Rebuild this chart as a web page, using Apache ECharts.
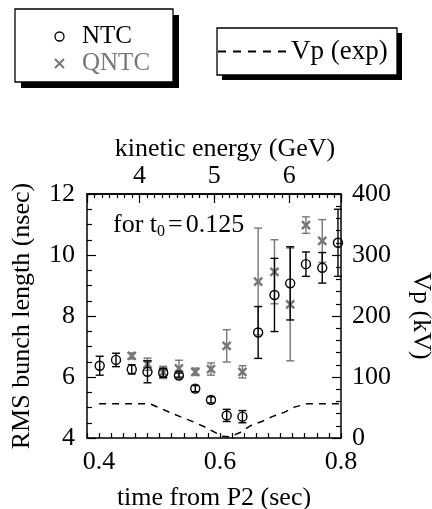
<!DOCTYPE html>
<html>
<head>
<meta charset="utf-8">
<script src="https://cdn.jsdelivr.net/npm/echarts@6/dist/echarts.min.js"></script>
<style>
  html, body { margin: 0; padding: 0; background: #fff; }
  #chart-root { width: 432px; height: 509px; }
</style>
</head>
<body>
<div id="chart-root"></div>
<script>
// time from P2 (sec) of each NTC point, RMS length (nsec) and error
var ntcT = [0.401, 0.428, 0.454, 0.480, 0.506, 0.532, 0.559, 0.585, 0.611, 0.637, 0.663, 0.690, 0.716, 0.742, 0.769, 0.795];
var ntcY = [6.37, 6.56, 6.25, 6.17, 6.14, 6.05, 5.62, 5.25, 4.74, 4.70, 7.46, 8.69, 9.07, 9.70, 9.58, 10.40];
var ntcErr = [0.31, 0.22, 0.15, 0.36, 0.15, 0.08, 0.10, 0.10, 0.20, 0.20, 0.85, 1.20, 1.20, 0.40, 0.50, 1.10];

// QNTC points
var qT = [0.454, 0.480, 0.506, 0.532, 0.559, 0.585, 0.611, 0.637, 0.663, 0.690, 0.716, 0.742, 0.769];
var qY = [6.69, 6.42, 6.15, 6.28, 6.17, 6.26, 7.02, 6.17, 9.13, 9.45, 8.38, 10.98, 10.46];
var qErr = [0.10, 0.20, 0.20, 0.27, 0.12, 0.20, 0.53, 0.20, 1.75, 1.05, 1.85, 0.27, 0.70];

// Vp (exp) in kV
var vpT = [0.400, 0.484, 0.501, 0.519, 0.534, 0.557, 0.575, 0.590, 0.603, 0.617, 0.633, 0.650, 0.669, 0.686, 0.706, 0.724, 0.744, 0.800];
var vpKV = [56, 56, 49, 41, 35, 26, 18, 10, 3, 2, 9, 20, 27, 35, 42, 51, 56, 56];

var timeLabels = [0.4, 0.6, 0.8];
var energyLabels = [4, 5, 6];

var FONT = "'Liberation Serif', 'DejaVu Serif', serif";
var GREY = "#777";
var CROSS = "path://M0,0L10,10M10,0L0,10";
// five short dashes for the Vp legend sample
var DASHES = "path://M0,0h8v2h-8zM15,0h8v2h-8zM30,0h8v2h-8zM45,0h8v2h-8zM60,0h8v2h-8z";

function zip(xs, ys) {
  return xs.map(function (x, i) { return [x, ys[i]]; });
}
function errData(xs, ys, es) {
  return xs.map(function (x, i) { return [x, ys[i] - es[i], ys[i] + es[i]]; });
}
function errorBars(color) {
  return function (params, api) {
    var x = api.value(0);
    var lo = api.coord([x, api.value(1)]);
    var hi = api.coord([x, api.value(2)]);
    var w = 4;
    var style = { stroke: color, lineWidth: 1.4 };
    return {
      type: "group",
      children: [
        { type: "line", shape: { x1: hi[0], y1: hi[1], x2: lo[0], y2: lo[1] }, style: style },
        { type: "line", shape: { x1: hi[0] - w, y1: hi[1], x2: hi[0] + w, y2: hi[1] }, style: style },
        { type: "line", shape: { x1: lo[0] - w, y1: lo[1], x2: lo[0] + w, y2: lo[1] }, style: style }
      ]
    };
  };
}
function near(v, list) {
  return list.some(function (t) { return Math.abs(v - t) < 1e-6; });
}
// framed box with a hard drop shadow, behind a legend
function shadowBox(x, y, w, h, off) {
  return [
    { type: "rect", shape: { x: x + off, y: y + off, width: w, height: h }, style: { fill: "#000" } },
    { type: "rect", shape: { x: x, y: y, width: w, height: h }, style: { fill: "#fff", stroke: "#000", lineWidth: 1.3 } }
  ];
}

var chart = echarts.init(document.getElementById("chart-root"));

var axisLine = { show: true, lineStyle: { color: "#000", width: 1.5 } };
var labelStyle = { color: "#000", fontSize: 26, fontFamily: FONT };

var option = {
  animation: false,
  backgroundColor: "#fff",
  textStyle: { fontFamily: FONT, color: "#000" },
  grid: { left: 87, top: 194, width: 254, height: 244, outerBoundsMode: "none", containLabel: false },
  legend: [
    {
      left: 54,
      top: 23,
      padding: 0,
      orient: "vertical",
      selectedMode: false,
      itemWidth: 9,
      itemHeight: 9,
      itemGap: 0,
      textStyle: { fontSize: 25, lineHeight: 27, fontFamily: FONT, color: "#000", padding: [0, 0, 0, 13] },
      data: [
        { name: "NTC", icon: "circle", itemStyle: { color: "transparent", borderColor: "#000", borderWidth: 1.3 } },
        { name: "QNTC", icon: CROSS, itemStyle: { color: "transparent", borderColor: GREY, borderWidth: 2 }, textStyle: { color: GREY } }
      ]
    },
    {
      left: 218,
      top: 37,
      padding: 0,
      selectedMode: false,
      itemWidth: 68,
      itemHeight: 2,
      textStyle: { fontSize: 27, lineHeight: 29, fontFamily: FONT, color: "#000" },
      data: [{ name: "Vp (exp)", icon: DASHES, itemStyle: { color: "#000" } }]
    }
  ],
  graphic: shadowBox(15, 9, 158, 73, 6).concat(shadowBox(217, 28, 180, 47, 5)).concat([
    {
      type: "text",
      left: 113,
      top: 212,
      style: {
        text: "{a|for t}{s|0}{e|=}{a|0.125}",
        rich: {
          a: { fontSize: 26, fontFamily: FONT, fill: "#000", lineHeight: 30, verticalAlign: "middle" },
          e: { fontSize: 26, fontFamily: FONT, fill: "#000", lineHeight: 30, verticalAlign: "middle", padding: [0, 3, 0, 3] },
          s: { fontSize: 16, fontFamily: FONT, fill: "#000", lineHeight: 16, verticalAlign: "bottom" }
        }
      }
    }
  ]),
  xAxis: [
    {
      type: "value",
      position: "bottom",
      min: 0.38,
      max: 0.8,
      interval: 0.02,
      axisLine: axisLine,
      axisTick: { inside: true, length: 5, lineStyle: { color: "#000", width: 1.2 } },
      splitLine: { show: false },
      axisLabel: Object.assign({}, labelStyle, {
        margin: 11,
        formatter: function (v) { return near(v, timeLabels) ? v.toFixed(1) : ""; }
      }),
      name: "time from P2 (sec)",
      nameLocation: "middle",
      nameGap: 47,
      nameTextStyle: labelStyle
    },
    {
      type: "value",
      position: "top",
      min: 3.3,
      max: 6.69,
      interval: 0.1,
      axisLine: axisLine,
      axisTick: { inside: true, length: 4, lineStyle: { color: "#000", width: 1.2 } },
      axisLabel: { show: false },
      splitLine: { show: false }
    },
    {
      type: "value",
      position: "top",
      min: 3.3,
      max: 6.69,
      splitNumber: 3,
      minInterval: 1,
      maxInterval: 1,
      axisLine: axisLine,
      axisTick: { inside: true, length: 9, lineStyle: { color: "#000", width: 1.2 } },
      splitLine: { show: false },
      axisLabel: Object.assign({}, labelStyle, {
        margin: 5,
        formatter: function (v) { return near(v, energyLabels) ? String(Math.round(v)) : ""; }
      }),
      name: "kinetic energy (GeV)",
      nameLocation: "middle",
      nameGap: 31,
      nameTextStyle: Object.assign({}, labelStyle, { padding: [0, 0, 0, 22] })
    }
  ],
  yAxis: [
    {
      type: "value",
      position: "left",
      min: 4,
      max: 12,
      interval: 2,
      axisLine: axisLine,
      axisTick: { inside: true, length: 9, lineStyle: { color: "#000", width: 1.2 } },
      minorTick: { show: true, splitNumber: 4, length: 5, lineStyle: { color: "#000", width: 1.2 } },
      splitLine: { show: false },
      axisLabel: Object.assign({}, labelStyle, { margin: 12 }),
      name: "RMS bunch length (nsec)",
      nameLocation: "middle",
      nameGap: 52,
      nameTextStyle: labelStyle
    },
    {
      type: "value",
      position: "right",
      min: 0,
      max: 400,
      interval: 100,
      axisLine: axisLine,
      axisTick: { inside: true, length: 9, lineStyle: { color: "#000", width: 1.2 } },
      minorTick: { show: true, splitNumber: 5, length: 5, lineStyle: { color: "#000", width: 1.2 } },
      splitLine: { show: false },
      axisLabel: Object.assign({}, labelStyle, { margin: 11 }),
      name: "Vp (kV)",
      nameLocation: "middle",
      nameRotate: -90,
      nameGap: 67,
      nameTextStyle: labelStyle
    }
  ],
  series: [
    {
      name: "Vp (exp)",
      type: "line",
      xAxisIndex: 0,
      yAxisIndex: 1,
      showSymbol: false,
      symbol: "none",
      lineStyle: { color: "#000", width: 1.5, type: [7, 6] },
      itemStyle: { color: "#000" },
      data: zip(vpT, vpKV),
      z: 2
    },
    {
      name: "QNTC err",
      type: "custom",
      xAxisIndex: 0,
      yAxisIndex: 0,
      renderItem: errorBars(GREY),
      encode: { x: 0, y: [1, 2] },
      data: errData(qT, qY, qErr),
      z: 3
    },
    {
      name: "QNTC",
      type: "scatter",
      xAxisIndex: 0,
      yAxisIndex: 0,
      symbol: CROSS,
      symbolSize: 8,
      itemStyle: { color: "transparent", borderColor: GREY, borderWidth: 2.5, opacity: 1 },
      data: zip(qT, qY),
      z: 4
    },
    {
      name: "NTC err",
      type: "custom",
      xAxisIndex: 0,
      yAxisIndex: 0,
      renderItem: errorBars("#000"),
      encode: { x: 0, y: [1, 2] },
      data: errData(ntcT, ntcY, ntcErr),
      z: 5
    },
    {
      name: "NTC",
      type: "scatter",
      xAxisIndex: 0,
      yAxisIndex: 0,
      symbol: "circle",
      symbolSize: 9,
      itemStyle: { color: "transparent", borderColor: "#000", borderWidth: 1.4, opacity: 1 },
      data: zip(ntcT, ntcY),
      z: 6
    }
  ]
};

chart.setOption(option);
</script>
</body>
</html>
